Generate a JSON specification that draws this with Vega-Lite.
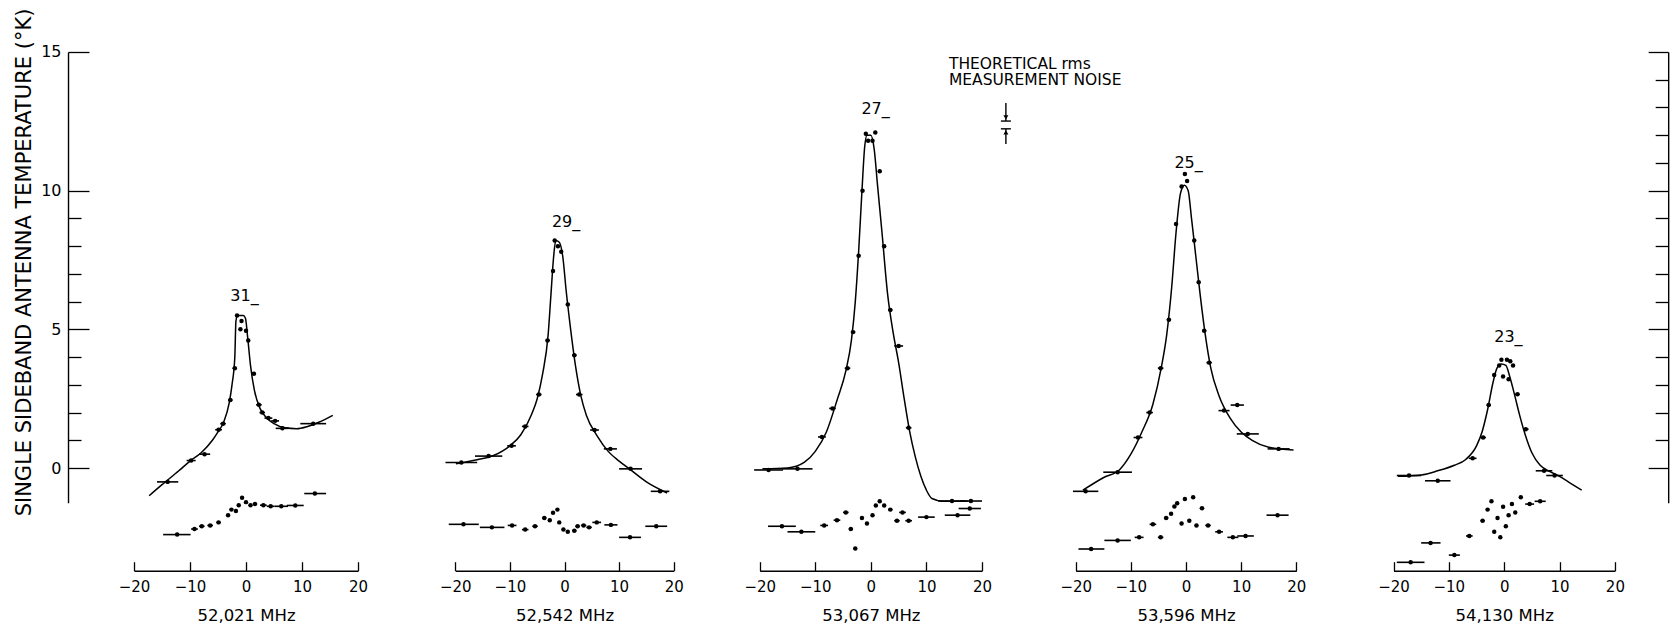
{
  "$schema": "https://vega.github.io/schema/vega-lite/v6.json",
  "background": "white",
  "padding": {"left": 13, "top": 7, "right": 5, "bottom": 5},
  "spacing": 0,
  "bounds": "flush",
  "config": {
    "view": {"stroke": null},
    "font": "DejaVu Sans",
    "axis": {"grid": false, "domainColor": "black", "tickColor": "black", "labelColor": "black", "titleColor": "black", "labelFont": "DejaVu Sans", "titleFont": "DejaVu Sans", "titleFontWeight": "normal", "labelFlush": false, "domainWidth": 1.4, "tickWidth": 1.3}
  },
  "datasets": {
    "curve": [
      {"p":1,"f":-17.3,"t":-1.0},{"p":1,"f":-15,"t":-0.6},{"p":1,"f":-12,"t":-0.1},{"p":1,"f":-10,"t":0.25},{"p":1,"f":-8,"t":0.55},{"p":1,"f":-6,"t":1.0},{"p":1,"f":-5,"t":1.3},{"p":1,"f":-4,"t":1.65},{"p":1,"f":-3,"t":2.35},{"p":1,"f":-2.5,"t":3.0},{"p":1,"f":-2.0,"t":4.0},{"p":1,"f":-1.8,"t":5.3},{"p":1,"f":-1.5,"t":5.5},{"p":1,"f":-0.5,"t":5.5},{"p":1,"f":-0.1,"t":5.4},{"p":1,"f":0.3,"t":4.7},{"p":1,"f":0.8,"t":3.7},{"p":1,"f":1.5,"t":2.8},{"p":1,"f":2.5,"t":2.15},{"p":1,"f":3.5,"t":1.85},{"p":1,"f":5,"t":1.6},{"p":1,"f":7,"t":1.45},{"p":1,"f":9,"t":1.42},{"p":1,"f":11,"t":1.5},{"p":1,"f":13,"t":1.65},{"p":1,"f":15.5,"t":1.9},
      {"p":2,"f":-19.9,"t":0.15},{"p":2,"f":-16,"t":0.3},{"p":2,"f":-13,"t":0.45},{"p":2,"f":-10,"t":0.8},{"p":2,"f":-8,"t":1.2},{"p":2,"f":-6,"t":1.95},{"p":2,"f":-5,"t":2.5},{"p":2,"f":-4,"t":3.4},{"p":2,"f":-3,"t":4.8},{"p":2,"f":-2.5,"t":6.2},{"p":2,"f":-2.0,"t":7.6},{"p":2,"f":-1.6,"t":8.2},{"p":2,"f":-1.0,"t":8.15},{"p":2,"f":-0.3,"t":7.6},{"p":2,"f":0.3,"t":6.4},{"p":2,"f":1,"t":5.2},{"p":2,"f":2,"t":3.7},{"p":2,"f":3,"t":2.6},{"p":2,"f":4,"t":1.9},{"p":2,"f":6,"t":1.15},{"p":2,"f":8,"t":0.6},{"p":2,"f":10,"t":0.25},{"p":2,"f":12,"t":-0.05},{"p":2,"f":15,"t":-0.5},{"p":2,"f":18.8,"t":-0.9},
      {"p":3,"f":-19.5,"t":-0.03},{"p":3,"f":-15,"t":0.0},{"p":3,"f":-12,"t":0.2},{"p":3,"f":-10,"t":0.6},{"p":3,"f":-8,"t":1.3},{"p":3,"f":-6,"t":2.5},{"p":3,"f":-4.5,"t":3.5},{"p":3,"f":-3.5,"t":4.6},{"p":3,"f":-2.8,"t":6.0},{"p":3,"f":-2.2,"t":7.8},{"p":3,"f":-1.6,"t":10.0},{"p":3,"f":-1.1,"t":11.6},{"p":3,"f":-0.7,"t":12.0},{"p":3,"f":0,"t":12.0},{"p":3,"f":0.6,"t":11.5},{"p":3,"f":1.2,"t":10.2},{"p":3,"f":2,"t":8.5},{"p":3,"f":3,"t":6.3},{"p":3,"f":4,"t":4.9},{"p":3,"f":5,"t":3.8},{"p":3,"f":6,"t":2.5},{"p":3,"f":7,"t":1.3},{"p":3,"f":8,"t":0.4},{"p":3,"f":9,"t":-0.3},{"p":3,"f":10,"t":-0.8},{"p":3,"f":11,"t":-1.1},{"p":3,"f":13,"t":-1.2},{"p":3,"f":17.5,"t":-1.2},
      {"p":4,"f":-18.7,"t":-0.8},{"p":4,"f":-15,"t":-0.35},{"p":4,"f":-12,"t":-0.05},{"p":4,"f":-10,"t":0.5},{"p":4,"f":-8,"t":1.3},{"p":4,"f":-6,"t":2.3},{"p":4,"f":-4.5,"t":3.6},{"p":4,"f":-3.5,"t":4.8},{"p":4,"f":-2.6,"t":6.5},{"p":4,"f":-1.8,"t":8.5},{"p":4,"f":-1.0,"t":9.9},{"p":4,"f":-0.3,"t":10.2},{"p":4,"f":0.4,"t":10.0},{"p":4,"f":1,"t":9.0},{"p":4,"f":1.8,"t":7.6},{"p":4,"f":2.6,"t":6.2},{"p":4,"f":3.5,"t":4.8},{"p":4,"f":4.5,"t":3.6},{"p":4,"f":6,"t":2.6},{"p":4,"f":8,"t":1.8},{"p":4,"f":10,"t":1.3},{"p":4,"f":12,"t":1.0},{"p":4,"f":15,"t":0.75},{"p":4,"f":19.5,"t":0.65},
      {"p":5,"f":-19.2,"t":-0.3},{"p":5,"f":-15,"t":-0.25},{"p":5,"f":-12,"t":-0.1},{"p":5,"f":-9,"t":0.1},{"p":5,"f":-7,"t":0.3},{"p":5,"f":-5,"t":0.8},{"p":5,"f":-4,"t":1.3},{"p":5,"f":-3,"t":2.1},{"p":5,"f":-2,"t":3.1},{"p":5,"f":-1.3,"t":3.6},{"p":5,"f":-0.5,"t":3.75},{"p":5,"f":0.3,"t":3.7},{"p":5,"f":1,"t":3.3},{"p":5,"f":1.8,"t":2.7},{"p":5,"f":2.8,"t":1.9},{"p":5,"f":3.8,"t":1.2},{"p":5,"f":5,"t":0.55},{"p":5,"f":6.5,"t":0.1},{"p":5,"f":8,"t":-0.1},{"p":5,"f":10,"t":-0.3},{"p":5,"f":12,"t":-0.55},{"p":5,"f":14,"t":-0.8}
    ],
    "meas": [
      {"p":1,"f":-14.0,"t":-0.5,"lo":-15.9,"hi":-12.1},{"p":1,"f":-9.8,"t":0.27,"lo":-10.6,"hi":-9.0},{"p":1,"f":-7.4,"t":0.5,"lo":-8.4,"hi":-6.4},{"p":1,"f":-4.9,"t":1.38,"lo":-5.5,"hi":-4.3},{"p":1,"f":-4.1,"t":1.6,"lo":-4.6,"hi":-3.6},{"p":1,"f":-2.8,"t":2.45,"lo":-3.2,"hi":-2.4},{"p":1,"f":-2.0,"t":3.6,"lo":-2.4,"hi":-1.6},{"p":1,"f":-1.6,"t":5.5,"lo":-1.9,"hi":-1.3},{"p":1,"f":-0.8,"t":5.3,"lo":-1.0,"hi":-0.6},{"p":1,"f":-1.0,"t":5.0,"lo":-1.2,"hi":-0.8},{"p":1,"f":0.0,"t":4.95,"lo":-0.2,"hi":0.2},{"p":1,"f":0.4,"t":4.6,"lo":0.1,"hi":0.7},{"p":1,"f":1.4,"t":3.4,"lo":1.0,"hi":1.8},{"p":1,"f":2.3,"t":2.28,"lo":1.8,"hi":2.8},{"p":1,"f":2.9,"t":2.0,"lo":2.4,"hi":3.4},{"p":1,"f":4.0,"t":1.8,"lo":3.3,"hi":4.7},{"p":1,"f":5.2,"t":1.7,"lo":4.5,"hi":5.9},{"p":1,"f":6.5,"t":1.43,"lo":5.3,"hi":7.7},{"p":1,"f":12.0,"t":1.6,"lo":9.7,"hi":14.3},
      {"p":2,"f":-18.9,"t":0.2,"lo":-21.8,"hi":-16},{"p":2,"f":-13.9,"t":0.43,"lo":-16.4,"hi":-11.4},{"p":2,"f":-9.7,"t":0.8,"lo":-10.5,"hi":-8.9},{"p":2,"f":-7.2,"t":1.5,"lo":-7.8,"hi":-6.6},{"p":2,"f":-4.7,"t":2.65,"lo":-5.2,"hi":-4.2},{"p":2,"f":-3.1,"t":4.6,"lo":-3.5,"hi":-2.7},{"p":2,"f":-2.1,"t":7.1,"lo":-2.4,"hi":-1.8},{"p":2,"f":-1.8,"t":8.2,"lo":-2.0,"hi":-1.6},{"p":2,"f":-1.2,"t":8.0,"lo":-1.4,"hi":-1.0},{"p":2,"f":-0.6,"t":7.8,"lo":-0.8,"hi":-0.4},{"p":2,"f":0.6,"t":5.9,"lo":0.3,"hi":0.9},{"p":2,"f":1.8,"t":4.07,"lo":1.4,"hi":2.2},{"p":2,"f":2.7,"t":2.65,"lo":2.1,"hi":3.3},{"p":2,"f":5.5,"t":1.37,"lo":4.7,"hi":6.3},{"p":2,"f":8.4,"t":0.69,"lo":7.2,"hi":9.6},{"p":2,"f":12.1,"t":-0.03,"lo":10,"hi":14.2},{"p":2,"f":17.5,"t":-0.84,"lo":15.8,"hi":19.2},
      {"p":3,"f":-18.4,"t":-0.07,"lo":-21,"hi":-15.8},{"p":3,"f":-13.2,"t":-0.03,"lo":-15.9,"hi":-10.5},{"p":3,"f":-8.8,"t":1.12,"lo":-9.5,"hi":-8.1},{"p":3,"f":-6.9,"t":2.15,"lo":-7.5,"hi":-6.3},{"p":3,"f":-4.2,"t":3.6,"lo":-4.7,"hi":-3.7},{"p":3,"f":-3.2,"t":4.9,"lo":-3.6,"hi":-2.8},{"p":3,"f":-2.2,"t":7.65,"lo":-2.5,"hi":-1.9},{"p":3,"f":-1.5,"t":10.0,"lo":-1.8,"hi":-1.2},{"p":3,"f":-0.9,"t":12.05,"lo":-1.1,"hi":-0.7},{"p":3,"f":-0.5,"t":11.8,"lo":-0.7,"hi":-0.3},{"p":3,"f":0.3,"t":11.8,"lo":0.1,"hi":0.5},{"p":3,"f":0.8,"t":12.1,"lo":0.6,"hi":1.0},{"p":3,"f":1.6,"t":10.7,"lo":1.3,"hi":1.9},{"p":3,"f":2.4,"t":8.0,"lo":2.1,"hi":2.7},{"p":3,"f":3.5,"t":5.7,"lo":3.1,"hi":3.9},{"p":3,"f":5.0,"t":4.4,"lo":4.2,"hi":5.8},{"p":3,"f":6.8,"t":1.45,"lo":6.3,"hi":7.3},{"p":3,"f":14.6,"t":-1.19,"lo":12.1,"hi":17.1},{"p":3,"f":18.0,"t":-1.19,"lo":16,"hi":20},
      {"p":4,"f":-18.2,"t":-0.84,"lo":-20.5,"hi":-15.9},{"p":4,"f":-12.4,"t":-0.15,"lo":-15,"hi":-9.8},{"p":4,"f":-8.7,"t":1.1,"lo":-9.5,"hi":-7.9},{"p":4,"f":-6.6,"t":2.0,"lo":-7.2,"hi":-6.0},{"p":4,"f":-4.6,"t":3.6,"lo":-5.1,"hi":-4.1},{"p":4,"f":-3.1,"t":5.35,"lo":-3.5,"hi":-2.7},{"p":4,"f":-1.8,"t":8.8,"lo":-2.1,"hi":-1.5},{"p":4,"f":-0.8,"t":10.15,"lo":-1.0,"hi":-0.6},{"p":4,"f":-0.2,"t":10.6,"lo":-0.4,"hi":0.0},{"p":4,"f":0.2,"t":10.35,"lo":0.0,"hi":0.4},{"p":4,"f":1.5,"t":8.2,"lo":1.2,"hi":1.8},{"p":4,"f":2.3,"t":6.7,"lo":2.0,"hi":2.6},{"p":4,"f":3.3,"t":4.95,"lo":2.9,"hi":3.7},{"p":4,"f":4.2,"t":3.8,"lo":3.7,"hi":4.7},{"p":4,"f":6.9,"t":2.07,"lo":5.9,"hi":7.9},{"p":4,"f":9.3,"t":2.27,"lo":8.1,"hi":10.5},{"p":4,"f":11.2,"t":1.23,"lo":9.2,"hi":13.2},{"p":4,"f":16.8,"t":0.69,"lo":14.8,"hi":18.8},
      {"p":5,"f":-17.2,"t":-0.27,"lo":-19.4,"hi":-15},{"p":5,"f":-12,"t":-0.46,"lo":-14.3,"hi":-9.7},{"p":5,"f":-5.7,"t":0.35,"lo":-6.4,"hi":-5.0},{"p":5,"f":-3.8,"t":1.1,"lo":-4.3,"hi":-3.3},{"p":5,"f":-2.8,"t":2.27,"lo":-3.2,"hi":-2.4},{"p":5,"f":-1.8,"t":3.35,"lo":-2.1,"hi":-1.5},{"p":5,"f":-0.9,"t":3.7,"lo":-1.1,"hi":-0.7},{"p":5,"f":-0.5,"t":3.9,"lo":-0.7,"hi":-0.3},{"p":5,"f":0.5,"t":3.9,"lo":0.3,"hi":0.7},{"p":5,"f":1.1,"t":3.85,"lo":0.9,"hi":1.3},{"p":5,"f":1.6,"t":3.7,"lo":1.4,"hi":1.8},{"p":5,"f":-0.2,"t":3.3,"lo":-0.4,"hi":0.0},{"p":5,"f":0.8,"t":3.2,"lo":0.6,"hi":1.0},{"p":5,"f":2.4,"t":2.66,"lo":2.0,"hi":2.8},{"p":5,"f":3.9,"t":1.4,"lo":3.4,"hi":4.4},{"p":5,"f":7.2,"t":-0.1,"lo":5.7,"hi":8.7},{"p":5,"f":9.1,"t":-0.27,"lo":7.6,"hi":10.6},
      {"p":1,"f":-12.3,"t":-2.4,"lo":-14.8,"hi":-9.9},{"p":1,"f":-9.2,"t":-2.2,"lo":-9.8,"hi":-8.6},{"p":1,"f":-7.9,"t":-2.1,"lo":-8.4,"hi":-7.4},{"p":1,"f":-6.4,"t":-2.07,"lo":-6.9,"hi":-5.9},{"p":1,"f":-4.9,"t":-1.96,"lo":-5.3,"hi":-4.5},{"p":1,"f":-3.2,"t":-1.7,"lo":-3.5,"hi":-2.9},{"p":1,"f":-2.6,"t":-1.5,"lo":-2.9,"hi":-2.3},{"p":1,"f":-1.8,"t":-1.55,"lo":-2.0,"hi":-1.6},{"p":1,"f":-1.3,"t":-1.34,"lo":-1.5,"hi":-1.1},{"p":1,"f":-0.7,"t":-1.07,"lo":-0.9,"hi":-0.5},{"p":1,"f":0,"t":-1.23,"lo":-0.2,"hi":0.2},{"p":1,"f":0.8,"t":-1.34,"lo":0.5,"hi":1.1},{"p":1,"f":1.6,"t":-1.3,"lo":1.2,"hi":2.0},{"p":1,"f":3.1,"t":-1.34,"lo":2.5,"hi":3.7},{"p":1,"f":4.4,"t":-1.38,"lo":3.7,"hi":5.1},{"p":1,"f":6.3,"t":-1.38,"lo":5.1,"hi":7.5},{"p":1,"f":8.8,"t":-1.35,"lo":7.3,"hi":10.3},{"p":1,"f":12.3,"t":-0.92,"lo":10.4,"hi":14.3},
      {"p":2,"f":-18.5,"t":-2.03,"lo":-21.2,"hi":-15.7},{"p":2,"f":-13.3,"t":-2.14,"lo":-15.5,"hi":-11},{"p":2,"f":-9.6,"t":-2.07,"lo":-10.4,"hi":-8.8},{"p":2,"f":-7.2,"t":-2.22,"lo":-7.8,"hi":-6.6},{"p":2,"f":-5.4,"t":-2.1,"lo":-5.9,"hi":-4.9},{"p":2,"f":-3.7,"t":-1.8,"lo":-4.1,"hi":-3.3},{"p":2,"f":-2.7,"t":-1.88,"lo":-3.0,"hi":-2.4},{"p":2,"f":-2.1,"t":-1.61,"lo":-2.3,"hi":-1.9},{"p":2,"f":-1.3,"t":-1.5,"lo":-1.5,"hi":-1.1},{"p":2,"f":-0.96,"t":-1.96,"lo":-1.2,"hi":-0.7},{"p":2,"f":-0.2,"t":-2.22,"lo":-0.4,"hi":0.0},{"p":2,"f":0.6,"t":-2.3,"lo":0.3,"hi":0.9},{"p":2,"f":1.8,"t":-2.26,"lo":1.4,"hi":2.2},{"p":2,"f":2.4,"t":-2.1,"lo":2.0,"hi":2.8},{"p":2,"f":3.5,"t":-2.07,"lo":3.0,"hi":4.0},{"p":2,"f":4.5,"t":-2.14,"lo":4.0,"hi":5.0},{"p":2,"f":5.9,"t":-1.96,"lo":5.1,"hi":6.7},{"p":2,"f":8.5,"t":-2.05,"lo":7.3,"hi":9.7},{"p":2,"f":12,"t":-2.5,"lo":10,"hi":14},{"p":2,"f":16.8,"t":-2.1,"lo":14.8,"hi":18.8},
      {"p":3,"f":-16,"t":-2.1,"lo":-18.5,"hi":-13.5},{"p":3,"f":-12.5,"t":-2.3,"lo":-15,"hi":-10},{"p":3,"f":-8.4,"t":-2.07,"lo":-9.1,"hi":-7.7},{"p":3,"f":-6.1,"t":-1.88,"lo":-6.7,"hi":-5.5},{"p":3,"f":-4.5,"t":-1.6,"lo":-5.0,"hi":-4.0},{"p":3,"f":-3.6,"t":-2.2,"lo":-4.0,"hi":-3.2},{"p":3,"f":-2.8,"t":-2.9,"lo":-3.1,"hi":-2.5},{"p":3,"f":-1.6,"t":-1.8,"lo":-1.8,"hi":-1.4},{"p":3,"f":-0.7,"t":-2.0,"lo":-0.9,"hi":-0.5},{"p":3,"f":0.3,"t":-1.7,"lo":0.1,"hi":0.5},{"p":3,"f":0.9,"t":-1.35,"lo":0.7,"hi":1.1},{"p":3,"f":1.6,"t":-1.2,"lo":1.4,"hi":1.8},{"p":3,"f":2.4,"t":-1.35,"lo":2.1,"hi":2.7},{"p":3,"f":3.5,"t":-1.5,"lo":3.1,"hi":3.9},{"p":3,"f":4.7,"t":-1.9,"lo":4.2,"hi":5.2},{"p":3,"f":5.7,"t":-1.6,"lo":5.1,"hi":6.3},{"p":3,"f":6.8,"t":-1.9,"lo":6.2,"hi":7.4},{"p":3,"f":10,"t":-1.77,"lo":8.5,"hi":11.5},{"p":3,"f":15.6,"t":-1.7,"lo":13.3,"hi":17.9},{"p":3,"f":17.8,"t":-1.46,"lo":15.8,"hi":19.8},
      {"p":4,"f":-17.2,"t":-2.92,"lo":-19.5,"hi":-14.8},{"p":4,"f":-12.4,"t":-2.61,"lo":-14.8,"hi":-10},{"p":4,"f":-8.5,"t":-2.5,"lo":-9.3,"hi":-7.7},{"p":4,"f":-6,"t":-2.03,"lo":-6.6,"hi":-5.4},{"p":4,"f":-4.6,"t":-2.5,"lo":-5.1,"hi":-4.1},{"p":4,"f":-3.6,"t":-1.8,"lo":-4.0,"hi":-3.2},{"p":4,"f":-2.7,"t":-1.65,"lo":-3.0,"hi":-2.4},{"p":4,"f":-2.1,"t":-1.39,"lo":-2.3,"hi":-1.9},{"p":4,"f":-1.6,"t":-1.27,"lo":-1.8,"hi":-1.4},{"p":4,"f":-0.8,"t":-2.0,"lo":-1.0,"hi":-0.6},{"p":4,"f":-0.2,"t":-1.12,"lo":-0.4,"hi":0.0},{"p":4,"f":0.6,"t":-1.9,"lo":0.4,"hi":0.8},{"p":4,"f":1.3,"t":-1.05,"lo":1.1,"hi":1.5},{"p":4,"f":1.9,"t":-2.07,"lo":1.6,"hi":2.2},{"p":4,"f":2.9,"t":-1.45,"lo":2.5,"hi":3.3},{"p":4,"f":4.0,"t":-2.07,"lo":3.5,"hi":4.5},{"p":4,"f":6.0,"t":-2.3,"lo":5.3,"hi":6.7},{"p":4,"f":8.5,"t":-2.5,"lo":7.5,"hi":9.5},{"p":4,"f":10.8,"t":-2.45,"lo":9.3,"hi":12.3},{"p":4,"f":16.6,"t":-1.7,"lo":14.6,"hi":18.6},
      {"p":5,"f":-16.9,"t":-3.4,"lo":-19.4,"hi":-14.4},{"p":5,"f":-13.3,"t":-2.7,"lo":-15,"hi":-11.5},{"p":5,"f":-9,"t":-3.14,"lo":-10,"hi":-8},{"p":5,"f":-6.3,"t":-2.45,"lo":-6.9,"hi":-5.7},{"p":5,"f":-3.9,"t":-1.9,"lo":-4.3,"hi":-3.5},{"p":5,"f":-3.0,"t":-1.5,"lo":-3.3,"hi":-2.7},{"p":5,"f":-2.3,"t":-1.2,"lo":-2.5,"hi":-2.1},{"p":5,"f":-1.8,"t":-2.3,"lo":-2.0,"hi":-1.6},{"p":5,"f":-1.2,"t":-1.8,"lo":-1.4,"hi":-1.0},{"p":5,"f":-0.7,"t":-2.5,"lo":-0.9,"hi":-0.5},{"p":5,"f":-0.2,"t":-1.4,"lo":-0.4,"hi":0.0},{"p":5,"f":0.3,"t":-2.1,"lo":0.1,"hi":0.5},{"p":5,"f":0.8,"t":-1.7,"lo":0.6,"hi":1.0},{"p":5,"f":1.4,"t":-1.3,"lo":1.2,"hi":1.6},{"p":5,"f":2.0,"t":-1.6,"lo":1.8,"hi":2.2},{"p":5,"f":3.0,"t":-1.05,"lo":2.7,"hi":3.3},{"p":5,"f":4.6,"t":-1.3,"lo":3.8,"hi":5.4},{"p":5,"f":6.5,"t":-1.2,"lo":5.5,"hi":7.5}
    ],
    "labels": [
      {"p":1,"f":-2.8,"t":6.2,"text":"31_"},{"p":2,"f":-2.3,"t":8.87,"text":"29_"},{"p":3,"f":-1.7,"t":12.96,"text":"27_"},{"p":4,"f":-2.1,"t":11.0,"text":"25_"},{"p":5,"f":-1.8,"t":4.73,"text":"23_"}
    ],
    "anno": [
      {"f":14.05,"t":14.57,"text":"THEORETICAL rms"},{"f":14.05,"t":13.99,"text":"MEASUREMENT NOISE"}
    ],
    "noiseV": [
      {"f":24.3,"t1":13.16,"t2":12.51},{"f":24.3,"t1":12.23,"t2":11.68}
    ],
    "noiseH": [
      {"lo":23.4,"hi":25.2,"t":12.51},{"lo":23.4,"hi":25.2,"t":12.23}
    ],
    "noiseA": [
      {"f":24.3,"t":12.64,"dir":"triangle-down"},{"f":24.3,"t":12.1,"dir":"triangle-up"}
    ]
  },
  "hconcat": [
    {
      "width": 338.3, "height": 450.7,
      "resolve": {"axis": {"x": "independent", "y": "independent"}},
      "layer": [
        {"data": {"name": "curve"}, "transform": [{"filter": "datum.p == 1"}],
         "mark": {"type": "line", "interpolate": "monotone", "color": "black", "strokeWidth": 1.5},
         "encoding": {
           "x": {"field": "f", "type": "quantitative", "scale": {"domain": [-20, 20], "range": [66, 290], "nice": false},
                 "axis": {"orient": "bottom", "values": [-20,-10,0,10,20], "title": "52,021 MHz", "offset": 68, "tickSize": -9, "labelPadding": 18, "labelFontSize": 15, "titleFontSize": 16.5, "titlePadding": 13, "format": "d"}},
           "y": {"field": "t", "type": "quantitative", "scale": {"domain": [-1.25, 15], "nice": false, "zero": false},
                 "axis": {"orient": "left", "values": [0,5,10,15], "tickSize": -21, "labelPadding": 28, "labelFontSize": 16, "title": "SINGLE SIDEBAND ANTENNA TEMPERATURE (°K)", "titleFontSize": 21, "titlePadding": 6, "titleY": 210}}
         }},
        {"data": {"name": "meas"}, "transform": [{"filter": "datum.p == 1"}],
         "mark": {"type": "rule", "color": "black", "strokeWidth": 1.6},
         "encoding": {
           "x": {"field": "lo", "type": "quantitative", "axis": null},
           "x2": {"field": "hi"},
           "y": {"field": "t", "type": "quantitative", "axis": {"orient": "left", "values": [1,2,3,4,6,7,8,9], "tickSize": -13, "labels": false, "domain": false, "title": null}}
         }},
        {"data": {"name": "meas"}, "transform": [{"filter": "datum.p == 1"}],
         "mark": {"type": "point", "filled": true, "size": 20, "color": "black", "opacity": 1},
         "encoding": {"x": {"field": "f", "type": "quantitative", "axis": null}, "y": {"field": "t", "type": "quantitative", "axis": null}}},
        {"data": {"name": "labels"}, "transform": [{"filter": "datum.p == 1"}],
         "mark": {"type": "text", "align": "left", "baseline": "middle", "fontSize": 16, "color": "black"},
         "encoding": {"x": {"field": "f", "type": "quantitative", "axis": null}, "y": {"field": "t", "type": "quantitative", "axis": null}, "text": {"field": "text"}}}
      ]
    },
    {
      "width": 309.3, "height": 450.7,
      "resolve": {"axis": {"x": "independent", "y": "independent"}},
      "layer": [
        {"data": {"name": "curve"}, "transform": [{"filter": "datum.p == 2"}],
         "mark": {"type": "line", "interpolate": "monotone", "color": "black", "strokeWidth": 1.5},
         "encoding": {
           "x": {"field": "f", "type": "quantitative", "scale": {"domain": [-20, 20], "range": [48.3, 266.7], "nice": false},
                 "axis": {"orient": "bottom", "values": [-20,-10,0,10,20], "title": "52,542 MHz", "offset": 68, "tickSize": -9, "labelPadding": 18, "labelFontSize": 15, "titleFontSize": 16.5, "titlePadding": 13, "format": "d"}},
           "y": {"field": "t", "type": "quantitative", "scale": {"domain": [-1.25, 15], "nice": false, "zero": false}, "axis": null}
         }},
        {"data": {"name": "meas"}, "transform": [{"filter": "datum.p == 2"}],
         "mark": {"type": "rule", "color": "black", "strokeWidth": 1.6},
         "encoding": {"x": {"field": "lo", "type": "quantitative", "axis": null}, "x2": {"field": "hi"}, "y": {"field": "t", "type": "quantitative", "axis": null}}},
        {"data": {"name": "meas"}, "transform": [{"filter": "datum.p == 2"}],
         "mark": {"type": "point", "filled": true, "size": 20, "color": "black", "opacity": 1},
         "encoding": {"x": {"field": "f", "type": "quantitative", "axis": null}, "y": {"field": "t", "type": "quantitative", "axis": null}}},
        {"data": {"name": "labels"}, "transform": [{"filter": "datum.p == 2"}],
         "mark": {"type": "text", "align": "left", "baseline": "middle", "fontSize": 16, "color": "black"},
         "encoding": {"x": {"field": "f", "type": "quantitative", "axis": null}, "y": {"field": "t", "type": "quantitative", "axis": null}, "text": {"field": "text"}}}
      ]
    },
    {
      "width": 311.7, "height": 450.7,
      "resolve": {"axis": {"x": "independent", "y": "independent"}},
      "layer": [
        {"data": {"name": "curve"}, "transform": [{"filter": "datum.p == 3"}],
         "mark": {"type": "line", "interpolate": "monotone", "color": "black", "strokeWidth": 1.5},
         "encoding": {
           "x": {"field": "f", "type": "quantitative", "scale": {"domain": [-20, 20], "range": [42.7, 265], "nice": false},
                 "axis": {"orient": "bottom", "values": [-20,-10,0,10,20], "title": "53,067 MHz", "offset": 68, "tickSize": -9, "labelPadding": 18, "labelFontSize": 15, "titleFontSize": 16.5, "titlePadding": 13, "format": "d"}},
           "y": {"field": "t", "type": "quantitative", "scale": {"domain": [-1.25, 15], "nice": false, "zero": false}, "axis": null}
         }},
        {"data": {"name": "meas"}, "transform": [{"filter": "datum.p == 3"}],
         "mark": {"type": "rule", "color": "black", "strokeWidth": 1.6},
         "encoding": {"x": {"field": "lo", "type": "quantitative", "axis": null}, "x2": {"field": "hi"}, "y": {"field": "t", "type": "quantitative", "axis": null}}},
        {"data": {"name": "meas"}, "transform": [{"filter": "datum.p == 3"}],
         "mark": {"type": "point", "filled": true, "size": 20, "color": "black", "opacity": 1},
         "encoding": {"x": {"field": "f", "type": "quantitative", "axis": null}, "y": {"field": "t", "type": "quantitative", "axis": null}}},
        {"data": {"name": "labels"}, "transform": [{"filter": "datum.p == 3"}],
         "mark": {"type": "text", "align": "left", "baseline": "middle", "fontSize": 16, "color": "black"},
         "encoding": {"x": {"field": "f", "type": "quantitative", "axis": null}, "y": {"field": "t", "type": "quantitative", "axis": null}, "text": {"field": "text"}}},
        {"data": {"name": "anno"},
         "mark": {"type": "text", "align": "left", "baseline": "middle", "fontSize": 15.5, "color": "black"},
         "encoding": {"x": {"field": "f", "type": "quantitative", "axis": null}, "y": {"field": "t", "type": "quantitative", "axis": null}, "text": {"field": "text"}}},
        {"data": {"name": "noiseV"},
         "mark": {"type": "rule", "color": "black", "strokeWidth": 1.4},
         "encoding": {"x": {"field": "f", "type": "quantitative", "axis": null}, "y": {"field": "t1", "type": "quantitative", "axis": null}, "y2": {"field": "t2"}}},
        {"data": {"name": "noiseH"},
         "mark": {"type": "rule", "color": "black", "strokeWidth": 1.4},
         "encoding": {"x": {"field": "lo", "type": "quantitative", "axis": null}, "x2": {"field": "hi"}, "y": {"field": "t", "type": "quantitative", "axis": null}}},
        {"data": {"name": "noiseA"},
         "mark": {"type": "point", "filled": true, "size": 25, "color": "black", "opacity": 1},
         "encoding": {"x": {"field": "f", "type": "quantitative", "axis": null}, "y": {"field": "t", "type": "quantitative", "axis": null}, "shape": {"field": "dir", "type": "nominal", "scale": {"domain": ["triangle-down", "triangle-up"], "range": ["triangle-down", "triangle-up"]}, "legend": null}}}
      ]
    },
    {
      "width": 315.8, "height": 450.7,
      "resolve": {"axis": {"x": "independent", "y": "independent"}},
      "layer": [
        {"data": {"name": "curve"}, "transform": [{"filter": "datum.p == 4"}],
         "mark": {"type": "line", "interpolate": "monotone", "color": "black", "strokeWidth": 1.5},
         "encoding": {
           "x": {"field": "f", "type": "quantitative", "scale": {"domain": [-20, 20], "range": [46.7, 267.3], "nice": false},
                 "axis": {"orient": "bottom", "values": [-20,-10,0,10,20], "title": "53,596 MHz", "offset": 68, "tickSize": -9, "labelPadding": 18, "labelFontSize": 15, "titleFontSize": 16.5, "titlePadding": 13, "format": "d"}},
           "y": {"field": "t", "type": "quantitative", "scale": {"domain": [-1.25, 15], "nice": false, "zero": false}, "axis": null}
         }},
        {"data": {"name": "meas"}, "transform": [{"filter": "datum.p == 4"}],
         "mark": {"type": "rule", "color": "black", "strokeWidth": 1.6},
         "encoding": {"x": {"field": "lo", "type": "quantitative", "axis": null}, "x2": {"field": "hi"}, "y": {"field": "t", "type": "quantitative", "axis": null}}},
        {"data": {"name": "meas"}, "transform": [{"filter": "datum.p == 4"}],
         "mark": {"type": "point", "filled": true, "size": 20, "color": "black", "opacity": 1},
         "encoding": {"x": {"field": "f", "type": "quantitative", "axis": null}, "y": {"field": "t", "type": "quantitative", "axis": null}}},
        {"data": {"name": "labels"}, "transform": [{"filter": "datum.p == 4"}],
         "mark": {"type": "text", "align": "left", "baseline": "middle", "fontSize": 16, "color": "black"},
         "encoding": {"x": {"field": "f", "type": "quantitative", "axis": null}, "y": {"field": "t", "type": "quantitative", "axis": null}, "text": {"field": "text"}}}
      ]
    },
    {
      "width": 323.2, "height": 450.7,
      "resolve": {"axis": {"x": "independent", "y": "independent"}},
      "layer": [
        {"data": {"name": "curve"}, "transform": [{"filter": "datum.p == 5"}],
         "mark": {"type": "line", "interpolate": "monotone", "color": "black", "strokeWidth": 1.5},
         "encoding": {
           "x": {"field": "f", "type": "quantitative", "scale": {"domain": [-20, 20], "range": [48.5, 269.9], "nice": false},
                 "axis": {"orient": "bottom", "values": [-20,-10,0,10,20], "title": "54,130 MHz", "offset": 68, "tickSize": -9, "labelPadding": 18, "labelFontSize": 15, "titleFontSize": 16.5, "titlePadding": 13, "format": "d"}},
           "y": {"field": "t", "type": "quantitative", "scale": {"domain": [-1.25, 15], "nice": false, "zero": false},
                 "axis": {"orient": "right", "values": [0,5,10,15], "tickSize": -20, "labels": false, "title": null}}
         }},
        {"data": {"name": "meas"}, "transform": [{"filter": "datum.p == 5"}],
         "mark": {"type": "rule", "color": "black", "strokeWidth": 1.6},
         "encoding": {"x": {"field": "lo", "type": "quantitative", "axis": null}, "x2": {"field": "hi"},
           "y": {"field": "t", "type": "quantitative", "axis": {"orient": "right", "values": [1,2,3,4,6,7,8,9,11,12,13,14], "tickSize": -13, "labels": false, "domain": false, "title": null}}}},
        {"data": {"name": "meas"}, "transform": [{"filter": "datum.p == 5"}],
         "mark": {"type": "point", "filled": true, "size": 20, "color": "black", "opacity": 1},
         "encoding": {"x": {"field": "f", "type": "quantitative", "axis": null}, "y": {"field": "t", "type": "quantitative", "axis": null}}},
        {"data": {"name": "labels"}, "transform": [{"filter": "datum.p == 5"}],
         "mark": {"type": "text", "align": "left", "baseline": "middle", "fontSize": 16, "color": "black"},
         "encoding": {"x": {"field": "f", "type": "quantitative", "axis": null}, "y": {"field": "t", "type": "quantitative", "axis": null}, "text": {"field": "text"}}}
      ]
    }
  ]
}
